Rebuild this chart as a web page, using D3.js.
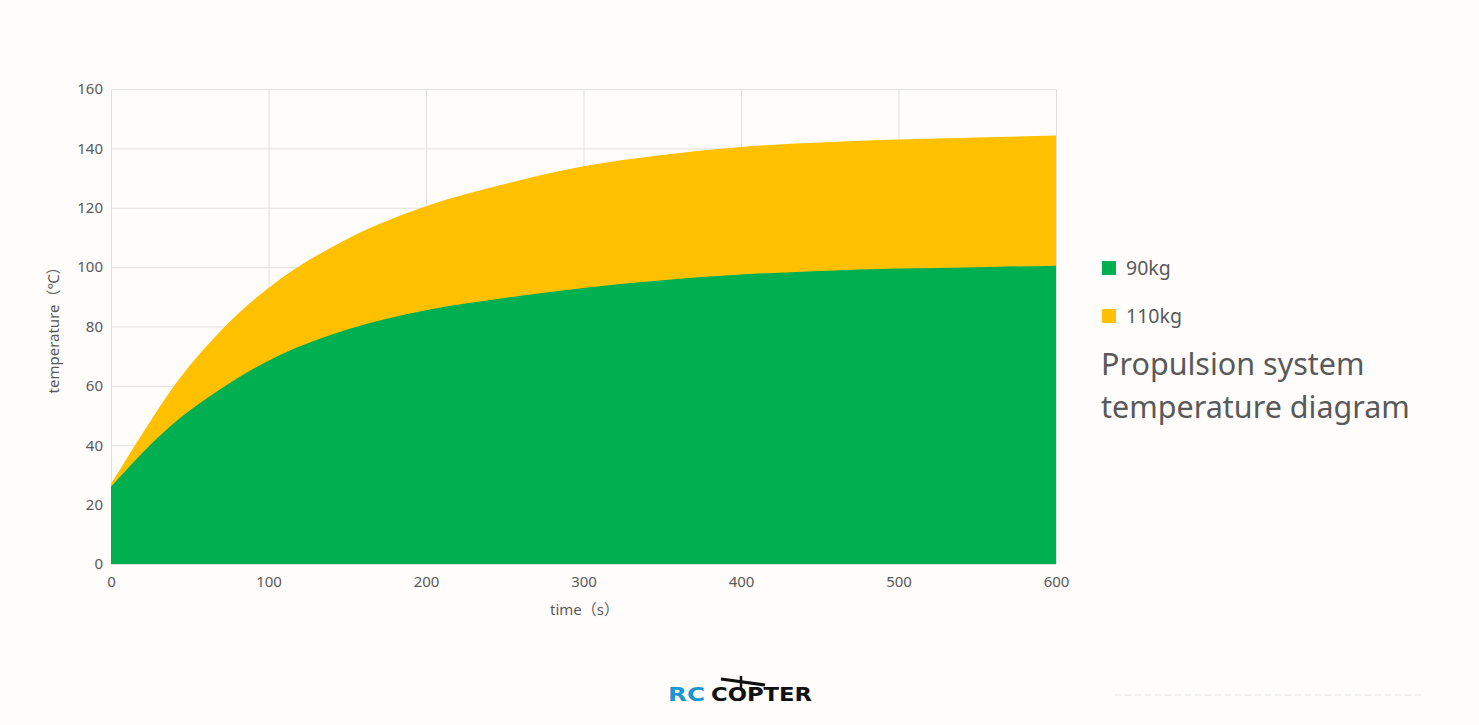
<!DOCTYPE html>
<html>
<head>
<meta charset="utf-8">
<title>Propulsion system temperature diagram</title>
<script src="https://cdn.jsdelivr.net/npm/d3@7"></script>
<style>
body, html {
  margin: 0;
  width: 100%;
  height: 100%;
  background: #fefdfc;
}
svg text {
  font-family: "Noto Sans", "Noto Sans CJK SC", sans-serif;
  fill: #595959;
}
.grid line {
  stroke: #e2e0e0;
  stroke-width: 1px;
}
</style>
</head>
<body>
<script>
// data
var times = [0, 20, 40, 60, 80, 100, 150, 200, 250, 300, 350, 400, 450, 500, 550, 600];
var temp90 = [26, 37.5, 47.5, 55.5, 62.5, 68.5, 79, 85.5, 89.6, 93, 95.6, 97.5, 98.7, 99.5, 100, 100.5];
var temp110 = [27, 44, 60, 73, 84, 93, 109.5, 120.5, 128, 134, 137.8, 140.5, 142, 143, 143.7, 144.3];
var xTicks = [0, 100, 200, 300, 400, 500, 600];
var yTicks = [0, 20, 40, 60, 80, 100, 120, 140, 160];
var seriesNames = ["90kg", "110kg"];
var seriesColors = ["#00af50", "#ffc000"];

var W = 1479, H = 725;
var plotL = 111, plotR = 1056, plotT = 89, plotB = 564;

var svg = d3.select("body").append("svg")
  .attr("width", W)
  .attr("height", H);

var x = d3.scaleLinear().domain([0, 600]).range([plotL, plotR]);
var y = d3.scaleLinear().domain([0, 160]).range([plotB, plotT]);

// gridlines
var grid = svg.append("g").attr("class", "grid");
grid.selectAll("line.h").data(yTicks).enter().append("line")
  .attr("class", "h")
  .attr("x1", plotL).attr("x2", plotR)
  .attr("y1", function(d) { return y(d) + 0.5; })
  .attr("y2", function(d) { return y(d) + 0.5; });
grid.selectAll("line.v").data(xTicks).enter().append("line")
  .attr("class", "v")
  .attr("y1", plotT).attr("y2", plotB)
  .attr("x1", function(d) { return x(d) + 0.5; })
  .attr("x2", function(d) { return x(d) + 0.5; });

// areas - 110kg behind, 90kg in front
function area(vals) {
  return d3.area()
    .x(function(d, i) { return x(times[i]); })
    .y0(y(0))
    .y1(function(d) { return y(d); })
    .curve(d3.curveMonotoneX)(vals);
}
svg.append("path").attr("d", area(temp110)).attr("fill", seriesColors[1]);
svg.append("path").attr("d", area(temp90)).attr("fill", seriesColors[0]);

// axes
var yAxis = svg.append("g")
  .attr("transform", "translate(" + plotL + ",0)")
  .call(d3.axisLeft(y).tickValues(yTicks).tickSize(0).tickPadding(8));
var xAxis = svg.append("g")
  .attr("transform", "translate(0," + plotB + ")")
  .call(d3.axisBottom(x).tickValues(xTicks).tickSize(0).tickPadding(12));
[xAxis, yAxis].forEach(function(a) {
  a.select(".domain").remove();
  a.selectAll("text")
    .style("font-size", "15px")
    .style("font-family", "'Noto Sans', sans-serif")
    .attr("fill", "#595959");
});

svg.append("text")
  .attr("x", (plotL + plotR) / 2 + 1)
  .attr("y", 615)
  .attr("text-anchor", "middle")
  .style("font-size", "15px")
  .text("time（s）");

svg.append("text")
  .attr("transform", "translate(59," + ((plotT + plotB) / 2) + ") rotate(-90)")
  .attr("text-anchor", "middle")
  .style("font-size", "15px")
  .text("temperature（℃）");

// legend
var legend = svg.append("g");
seriesNames.forEach(function(name, i) {
  var ly = 268 + i * 48;
  legend.append("rect")
    .attr("x", 1102).attr("y", ly - 7)
    .attr("width", 14).attr("height", 14)
    .attr("fill", seriesColors[i]);
  legend.append("text")
    .attr("x", 1126).attr("y", ly + 7)
    .style("font-size", "19.5px")
    .text(name);
});

svg.append("text")
  .attr("x", 1101).attr("y", 375)
  .style("font-size", "30.5px")
  .text("Propulsion system");
svg.append("text")
  .attr("x", 1101).attr("y", 418)
  .style("font-size", "30.5px")
  .text("temperature diagram");

// logo at bottom
var logo = svg.append("g");
logo.append("line")
  .attr("x1", 721).attr("y1", 679).attr("x2", 765).attr("y2", 685)
  .attr("stroke", "#111").attr("stroke-width", 3);
logo.append("line")
  .attr("x1", 741).attr("y1", 676).attr("x2", 741).attr("y2", 688)
  .attr("stroke", "#111").attr("stroke-width", 2.5);
logo.append("text")
  .attr("x", 668).attr("y", 701)
  .style("font-family", "'DejaVu Sans', sans-serif")
  .style("font-weight", "bold")
  .style("font-size", "19px")
  .style("fill", "#1a96d0")
  .attr("textLength", 37)
  .attr("lengthAdjust", "spacingAndGlyphs")
  .text("RC");
logo.append("text")
  .attr("x", 711).attr("y", 701)
  .style("font-family", "'DejaVu Sans', sans-serif")
  .style("font-weight", "bold")
  .style("font-size", "19px")
  .style("fill", "#111")
  .attr("textLength", 101)
  .attr("lengthAdjust", "spacingAndGlyphs")
  .text("COPTER");

// faint dashed line bottom right
svg.append("line")
  .attr("x1", 1115).attr("x2", 1422)
  .attr("y1", 695).attr("y2", 695)
  .attr("stroke", "#e6e0dc")
  .attr("stroke-dasharray", "6,4");
</script>
</body>
</html>
